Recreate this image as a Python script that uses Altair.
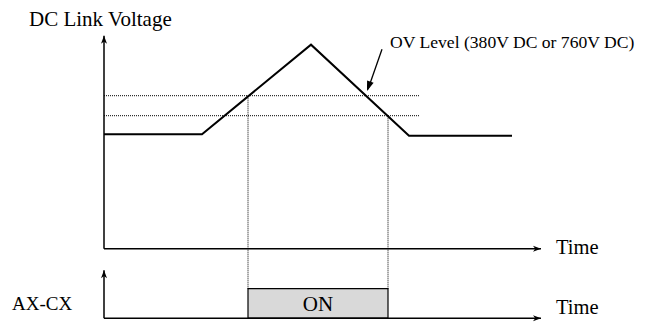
import altair as alt
import pandas as pd

# ---- schematic data (arbitrary time / voltage units) ----
wave_t = [0, 9.8, 20.7, 30.5, 40.8]
wave_v = [114.5, 114.5, 204, 113, 113]

ov_levels = [153, 133]
ov_t_end = 31.6

switch_t = [14.4, 28.4]          # relay ON / OFF instants
switch_level = [153, 133]        # where the dotted drop lines start

axis_t_end = 43.7
upper_axis_top = 213
lower_base = -69.5
lower_on = -40
lower_axis_top = -21.5

ov_arrow_t = [27.8, 26.4]
ov_arrow_v = [199.5, 159.5]

labels = ["DC Link Voltage", "OV Level (380V DC or 760V DC)", "Time", "Time", "AX-CX"]
label_t = [-7.5, 28.6, 45.2, 45.2, -9.2]
label_v = [222.7, 200.5, -5.3, -65.0, -61.3]
label_fs = [21, 17.6, 20.5, 20.5, 19]

on_label = "ON"

FONT = "Liberation Serif"

X = alt.Scale(domain=[-9.6, 53.9], nice=False, zero=False)
Y = alt.Scale(domain=[-70.3, 237.7], nice=False, zero=False)


def xe(f):
    return alt.X(f, type="quantitative", scale=X, axis=None)


def ye(f):
    return alt.Y(f, type="quantitative", scale=Y, axis=None)


# axes lines
axes_df = pd.DataFrame({
    "t": [0, 0, 0, 0],
    "t2": [0, axis_t_end, 0, axis_t_end],
    "v": [0, 0, lower_base, lower_base],
    "v2": [upper_axis_top, 0, lower_axis_top, lower_base],
})
axes = alt.Chart(axes_df).mark_rule(color="black", strokeWidth=1.5).encode(
    x=xe("t"), x2="t2", y=ye("v"), y2="v2"
)

heads_df = pd.DataFrame({
    "t": [0, axis_t_end, 0, axis_t_end],
    "v": [upper_axis_top, 0, lower_axis_top, lower_base],
    "ang": [0, 90, 0, 90],
})
heads = alt.Chart(heads_df).mark_point(
    shape="M0,0 L0.6,1.6 L0,1.15 L-0.6,1.6 Z",
    filled=True, color="black", size=100, opacity=1,
).encode(x=xe("t"), y=ye("v"), angle=alt.Angle("ang:Q", scale=None))

# waveform
wave_df = pd.DataFrame({"t": wave_t, "v": wave_v, "i": range(len(wave_t))})
wave = alt.Chart(wave_df).mark_line(color="black", strokeWidth=2).encode(
    x=xe("t"), y=ye("v"), order="i:O"
)

# OV dotted levels
ov_df = pd.DataFrame({"t": [0] * len(ov_levels), "t2": [ov_t_end] * len(ov_levels), "v": ov_levels})
ov = alt.Chart(ov_df).mark_rule(color="black", strokeWidth=1, strokeDash=[1, 1]).encode(
    x=xe("t"), x2="t2", y=ye("v")
)

# dotted drop lines
sw_df = pd.DataFrame({"t": switch_t, "v": switch_level, "v2": [lower_on] * len(switch_t)})
sw = alt.Chart(sw_df).mark_rule(color="black", strokeWidth=1, strokeDash=[1, 1]).encode(
    x=xe("t"), y=ye("v"), y2="v2"
)

# ON bar
bar_df = pd.DataFrame({"t": [switch_t[0]], "t2": [switch_t[1]], "v": [lower_base], "v2": [lower_on]})
bar = alt.Chart(bar_df).mark_rect(fill="#d9d9d9", stroke="black", strokeWidth=1.2).encode(
    x=xe("t"), x2="t2", y=ye("v"), y2="v2"
)

# OV annotation arrow
arr_df = pd.DataFrame({"t": [ov_arrow_t[0]], "t2": [ov_arrow_t[1]], "v": [ov_arrow_v[0]], "v2": [ov_arrow_v[1]]})
arr = alt.Chart(arr_df).mark_rule(color="black", strokeWidth=1.3).encode(
    x=xe("t"), x2="t2", y=ye("v"), y2="v2"
)
tip_df = pd.DataFrame({"t": [26.3], "v": [157.7], "ang": [199.6]})
tip = alt.Chart(tip_df).mark_point(
    shape="M0,0 L0.7,2 L-0.7,2 Z", filled=True, color="black", size=100, opacity=1
).encode(x=xe("t"), y=ye("v"), angle=alt.Angle("ang:Q", scale=None))

# texts
txt_df = pd.DataFrame({"label": labels, "t": label_t, "v": label_v, "fs": label_fs})
txt = alt.Chart(txt_df).mark_text(
    font=FONT, align="left", baseline="alphabetic", color="black"
).encode(x=xe("t"), y=ye("v"), text="label:N", size=alt.Size("fs:Q", scale=None))

on_df = pd.DataFrame({"label": [on_label], "t": [(switch_t[0] + switch_t[1]) / 2], "v": [-62.3]})
on_txt = alt.Chart(on_df).mark_text(
    font=FONT, align="center", baseline="alphabetic", color="black", fontSize=21
).encode(x=xe("t"), y=ye("v"), text="label:N")

chart = alt.layer(ov, sw, bar, axes, heads, wave, arr, tip, txt, on_txt).properties(
    width=635, height=308, padding=0
).configure_view(stroke=None)

chart.save("out.html", embed_options={"renderer": "svg", "actions": False})
